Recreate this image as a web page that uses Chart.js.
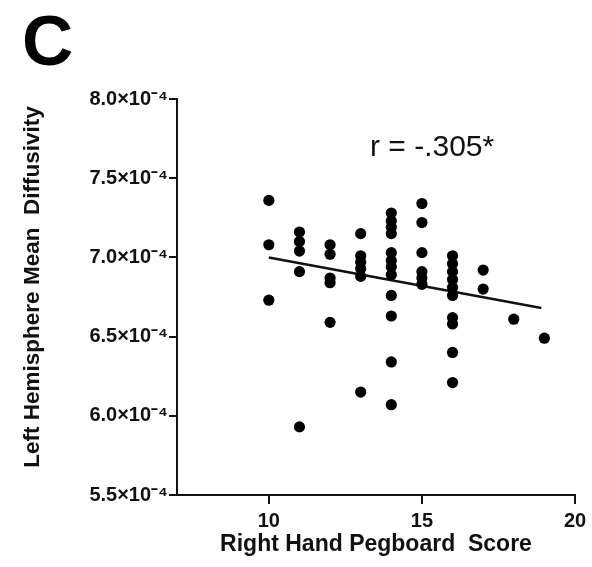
<!DOCTYPE html>
<html>
<head>
<meta charset="utf-8">
<script src="https://cdn.jsdelivr.net/npm/chart.js@4.4.0/dist/chart.umd.min.js"></script>
<style>
    html, body { margin: 0; padding: 0; background: #fff; }
    #wrap { width: 592px; height: 567px; }
</style>
</head>
<body>
<div id="wrap"><canvas id="scatterChart"></canvas></div>
<script>
// values (diffusivity in units of 10^-4)
const pegboardScore = [
    10, 10, 10,
    11, 11, 11, 11, 11,
    12, 12, 12, 12, 12,
    13, 13, 13, 13, 13, 13,
    14, 14, 14, 14, 14, 14, 14, 14, 14, 14, 14, 14,
    15, 15, 15, 15, 15, 15,
    16, 16, 16, 16, 16, 16, 16, 16, 16, 16,
    17, 17,
    18,
    19
];
const meanDiffusivity = [
    7.36, 7.08, 6.73,
    7.16, 7.10, 7.04, 6.91, 5.93,
    7.08, 7.02, 6.87, 6.84, 6.59,
    7.15, 7.01, 6.97, 6.93, 6.88, 6.15,
    7.28, 7.23, 7.19, 7.15, 7.03, 6.98, 6.94, 6.89, 6.76, 6.63, 6.34, 6.07,
    7.34, 7.22, 7.03, 6.91, 6.87, 6.83,
    7.01, 6.96, 6.91, 6.86, 6.81, 6.76, 6.62, 6.58, 6.40, 6.21,
    6.92, 6.80,
    6.61,
    6.49
];
// regression line end points
const fitX = [10, 18.9];
const fitY = [7.00, 6.68];

const xTickValues = [10, 15, 20];
const yTickValues = [5.5, 6.0, 6.5, 7.0, 7.5, 8.0];

const panelLabel = "C";
const corrLabel = "r = -.305*";
const xTitle = "Right Hand Pegboard  Score";
const yTitle = "Left Hemisphere Mean  Diffusivity";

const fontFamily = "'Liberation Sans', Arial, Helvetica, sans-serif";
const ink = "#111";

const points = pegboardScore.map((x, i) => ({ x: x, y: meanDiffusivity[i] }));
const fitLine = fitX.map((x, i) => ({ x: x, y: fitY[i] }));

// panel letter, r value and the rotated y title
const labelPlugin = {
    id: "panelText",
    afterDraw(chart) {
        const ctx = chart.ctx;
        ctx.save();
        ctx.fillStyle = "#000";
        ctx.textBaseline = "alphabetic";
        ctx.textAlign = "left";
        ctx.font = "bold 71px " + fontFamily;
        ctx.fillText(panelLabel, 22, 65);

        ctx.font = "30px " + fontFamily;
        ctx.fillStyle = ink;
        ctx.fillText(corrLabel, 370, 156);

        ctx.translate(33, 287);
        ctx.rotate(-Math.PI / 2);
        ctx.textAlign = "center";
        ctx.textBaseline = "middle";
        ctx.font = "bold 22.5px " + fontFamily;
        ctx.fillText(yTitle, 0, 0);
        ctx.restore();
    }
};

const ctx = document.getElementById("scatterChart").getContext("2d");

new Chart(ctx, {
    type: "scatter",
    data: {
        datasets: [
            {
                label: "Subjects",
                data: points,
                backgroundColor: "#000",
                borderWidth: 0,
                pointRadius: 5.6
            },
            {
                type: "line",
                label: "Fit",
                data: fitLine,
                borderColor: ink,
                borderWidth: 2.5,
                pointRadius: 0,
                fill: false
            }
        ]
    },
    options: {
        responsive: true,
        maintainAspectRatio: false,
        animation: false,
        layout: {
            padding: { top: 99, right: 17, left: 0, bottom: 0 }
        },
        plugins: {
            legend: { display: false },
            tooltip: { enabled: false }
        },
        scales: {
            x: {
                type: "linear",
                min: 7,
                max: 20,
                afterBuildTicks: scale => {
                    scale.ticks = xTickValues.map(v => ({ value: v }));
                },
                afterFit: scale => {
                    scale.height = 72;
                },
                grid: {
                    drawOnChartArea: false,
                    drawTicks: true,
                    tickLength: 9,
                    color: ink,
                    lineWidth: 2
                },
                border: { display: true, color: ink, width: 2 },
                ticks: {
                    color: ink,
                    padding: 5,
                    maxRotation: 0,
                    font: { family: fontFamily, size: 20, weight: "bold" }
                },
                title: {
                    display: true,
                    text: xTitle,
                    color: ink,
                    font: { family: fontFamily, size: 23, weight: "bold" },
                    padding: { top: 0, bottom: 9 }
                }
            },
            y: {
                type: "linear",
                min: 5.5,
                max: 8.0,
                afterBuildTicks: scale => {
                    scale.ticks = yTickValues.map(v => ({ value: v }));
                },
                afterFit: scale => {
                    scale.width = 177;
                },
                grid: {
                    drawOnChartArea: false,
                    drawTicks: true,
                    tickLength: 8,
                    color: ink,
                    lineWidth: 2
                },
                border: { display: true, color: ink, width: 2 },
                ticks: {
                    color: ink,
                    padding: 1,
                    font: { family: fontFamily, size: 20, weight: "bold" },
                    callback: v => v.toFixed(1) + "×10⁻⁴"
                }
            }
        }
    },
    plugins: [labelPlugin]
});
</script>
</body>
</html>
